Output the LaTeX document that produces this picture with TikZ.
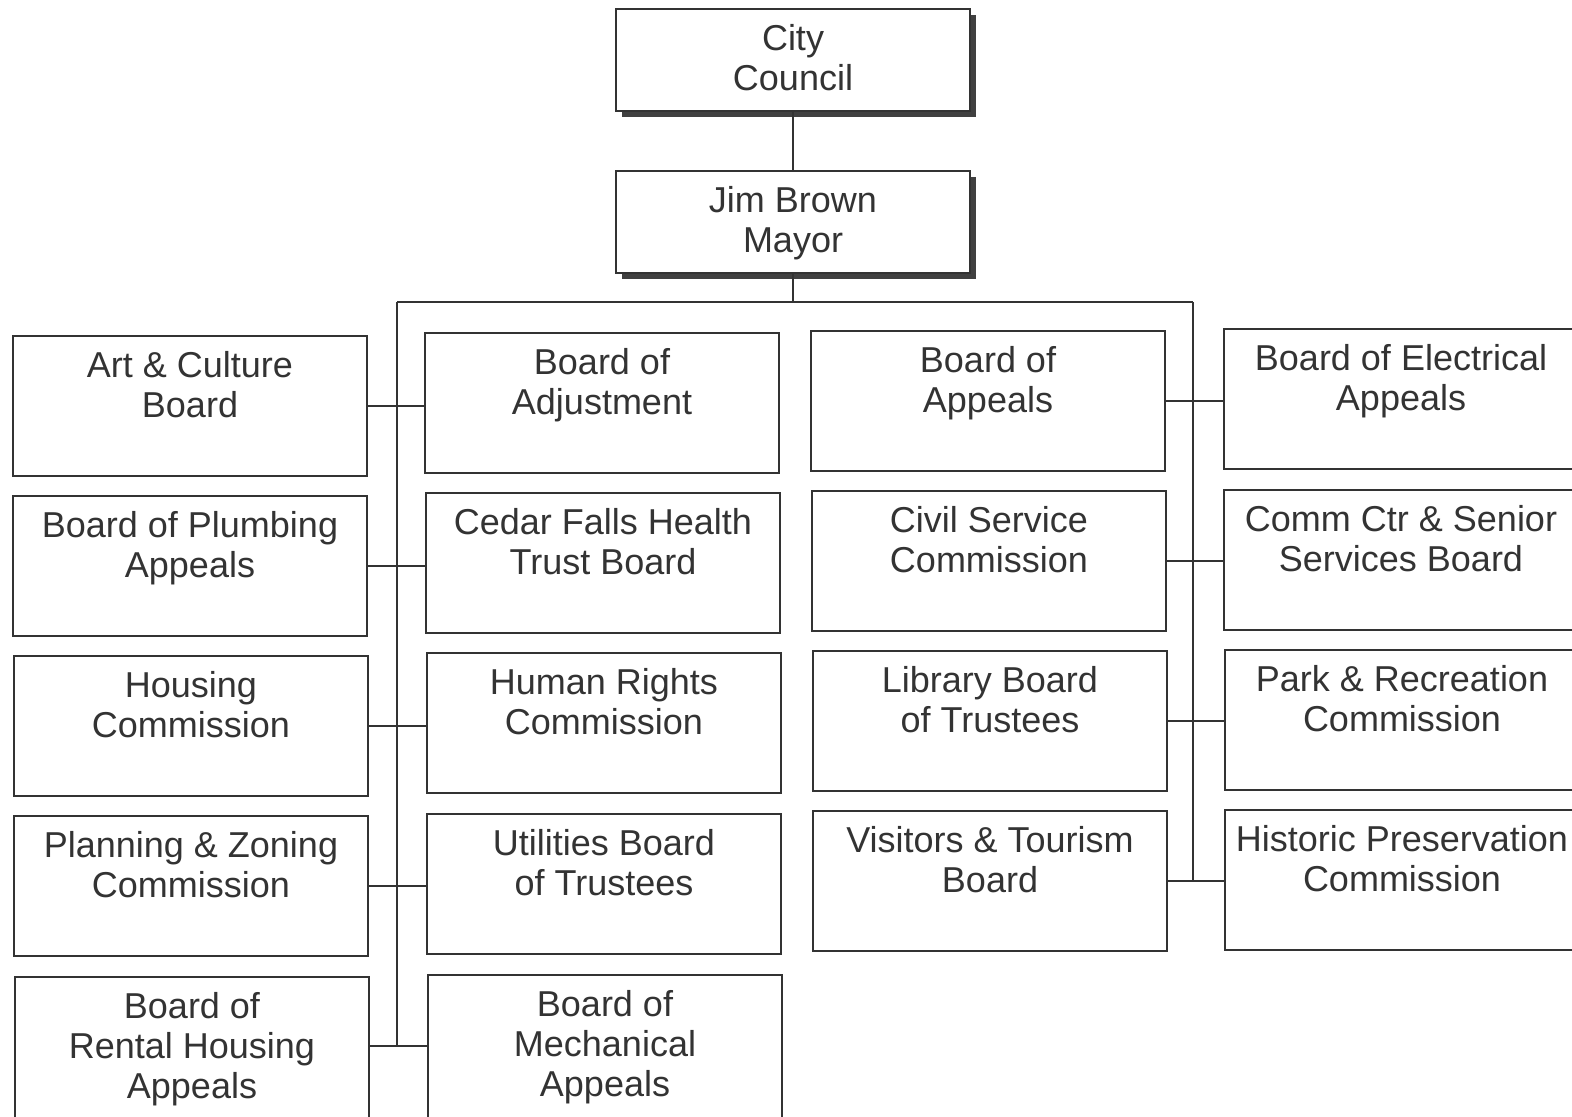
\documentclass[tikz,border=0pt]{standalone}
\usepackage{fontspec}
\setmainfont{Liberation Sans}
\usetikzlibrary{shadows}
\begin{document}
\begin{tikzpicture}[x=0.5pt,y=-0.5pt]
        \tikzstyle{board}=[draw=black!80, line width=1pt, minimum width=177pt, minimum height=70pt, inner sep=0pt, anchor=north]
        \tikzstyle{head}=[board, minimum height=51pt, fill=white, drop shadow={shadow xshift=3pt, shadow yshift=-3pt, fill=black!75, opacity=1}]
        \tikzstyle{lbl}=[anchor=north, align=center, inner sep=0pt, text=black!80, font=\fontsize{18}{20}\selectfont]
        \tikzstyle{link}=[draw=black!80, line width=1pt]
        \useasboundingbox (0,0) rectangle (1572,1116);
        % top of the chart
        \node[head] (council) at (793,8) {};
        \node[lbl] (council-t) at ([yshift=-8pt]council.north) {City\\Council};
        \node[head] (mayor) at (793,170) {};
        \node[lbl] (mayor-t) at ([yshift=-8pt]mayor.north) {Jim Brown\\Mayor};
        % first column
        \node[board] (art) at (190,335) {};
        \node[lbl] (art-t) at ([yshift=-8pt]art.north) {Art \& Culture\\Board};
        \node[board] (plumb) at (190,495) {};
        \node[lbl] (plumb-t) at ([yshift=-8pt]plumb.north) {Board of Plumbing\\Appeals};
        \node[board] (hous) at (191,655) {};
        \node[lbl] (hous-t) at ([yshift=-8pt]hous.north) {Housing\\Commission};
        \node[board] (plan) at (191,815) {};
        \node[lbl] (plan-t) at ([yshift=-8pt]plan.north) {Planning \& Zoning\\Commission};
        \node[board, minimum height=80pt] (rent) at (192,976) {};
        \node[lbl] (rent-t) at ([yshift=-8pt]rent.north) {Board of\\Rental Housing\\Appeals};
        % second column
        \node[board] (adj) at (602,332) {};
        \node[lbl] (adj-t) at ([yshift=-8pt]adj.north) {Board of\\Adjustment};
        \node[board] (cedar) at (603,492) {};
        \node[lbl] (cedar-t) at ([yshift=-8pt]cedar.north) {Cedar Falls Health\\Trust Board};
        \node[board] (human) at (604,652) {};
        \node[lbl] (human-t) at ([yshift=-8pt]human.north) {Human Rights\\Commission};
        \node[board] (util) at (604,813) {};
        \node[lbl] (util-t) at ([yshift=-8pt]util.north) {Utilities Board\\of Trustees};
        \node[board, minimum height=80pt] (mech) at (605,974) {};
        \node[lbl] (mech-t) at ([yshift=-8pt]mech.north) {Board of\\Mechanical\\Appeals};
        % third column
        \node[board] (apl) at (988,330) {};
        \node[lbl] (apl-t) at ([yshift=-8pt]apl.north) {Board of\\Appeals};
        \node[board] (civil) at (989,490) {};
        \node[lbl] (civil-t) at ([yshift=-8pt]civil.north) {Civil Service\\Commission};
        \node[board] (lib) at (990,650) {};
        \node[lbl] (lib-t) at ([yshift=-8pt]lib.north) {Library Board\\of Trustees};
        \node[board] (visit) at (990,810) {};
        \node[lbl] (visit-t) at ([yshift=-8pt]visit.north) {Visitors \& Tourism\\Board};
        % fourth column
        \node[board] (elec) at (1401,328) {};
        \node[lbl] (elec-t) at ([yshift=-8pt]elec.north) {Board of Electrical\\Appeals};
        \node[board] (comm) at (1401,489) {};
        \node[lbl] (comm-t) at ([yshift=-8pt]comm.north) {Comm Ctr \& Senior\\Services Board};
        \node[board] (park) at (1402,649) {};
        \node[lbl] (park-t) at ([yshift=-8pt]park.north) {Park \& Recreation\\Commission};
        \node[board] (hist) at (1402,809) {};
        \node[lbl] (hist-t) at ([yshift=-8pt]hist.north) {Historic Preservation\\Commission};
        % connectors
        \coordinate (lt) at (397,302);
        \coordinate (rt) at (1193,302);
        \coordinate (r5) at ([yshift=-35pt]rent.north east);
        \draw[link] (council) -- (mayor);
        \draw[link] (mayor) -- (mayor |- lt);
        \draw[link] (lt) -- (rt);
        \draw[link] (lt) -- (lt |- r5);
        \draw[link] (rt) -- (rt |- hist.west);
        \draw[link] (art.east) -- (art.east -| adj.west);
        \draw[link] (plumb.east) -- (plumb.east -| cedar.west);
        \draw[link] (hous.east) -- (hous.east -| human.west);
        \draw[link] (plan.east) -- (plan.east -| util.west);
        \draw[link] (r5) -- (r5 -| mech.west);
        \draw[link] (apl.east) -- (apl.east -| elec.west);
        \draw[link] (civil.east) -- (civil.east -| comm.west);
        \draw[link] (lib.east) -- (lib.east -| park.west);
        \draw[link] (visit.east) -- (visit.east -| hist.west);
      \end{tikzpicture}
\end{document}
